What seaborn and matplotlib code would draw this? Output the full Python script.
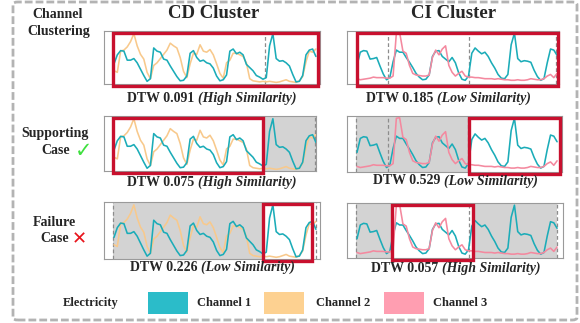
import numpy as np
import pandas as pd
import matplotlib
matplotlib.use("Agg")
import matplotlib.pyplot as plt
import seaborn as sns
from matplotlib.patches import Rectangle, FancyBboxPatch
from matplotlib.transforms import blended_transform_factory

# ---------------- data ----------------
cd_channel1 = [0.38, 0.55, 0.63, 0.62, 0.45, 0.45, 0.48, 0.40, 0.28, 0.16,
               0.05, 0.10, 0.68, 0.62, 0.60, 0.47, 0.45, 0.34, 0.24, 0.14,
               0.06, 0.07, 0.15, 0.58, 0.63, 0.50, 0.43, 0.45, 0.40, 0.38,
               0.30, 0.15, 0.06, 0.08, 0.17, 0.62, 0.66, 0.57, 0.60, 0.55,
               0.37, 0.31, 0.25, 0.16, 0.13, 0.09, 0.12, 0.72, 0.95, 0.48,
               0.43, 0.44, 0.40, 0.34, 0.18, 0.04, 0.05, 0.16, 0.55, 0.64,
               0.66, 0.52]
cd_channel2 = [0.25, 0.22, 0.62, 0.64, 0.70, 0.80, 0.95, 0.72, 0.56, 0.47,
               0.22, 0.10, 0.35, 0.40, 0.48, 0.56, 0.64, 0.77, 0.72, 0.68,
               0.50, 0.24, 0.12, 0.38, 0.58, 0.56, 0.74, 0.62, 0.60, 0.65,
               0.55, 0.38, 0.20, 0.11, 0.40, 0.45, 0.58, 0.58, 0.55, 0.52,
               0.40, 0.10, 0.06, 0.05, 0.04, 0.05, 0.04, 0.05, 0.04, 0.03,
               0.04, 0.06, 0.08, 0.05, 0.04, 0.03, 0.06, 0.14, 0.42, 0.62,
               0.60, 0.66]
ci_channel1 = [0.35, 0.60, 0.63, 0.62, 0.47, 0.48, 0.50, 0.34, 0.19, 0.08,
               0.12, 0.42, 0.64, 0.60, 0.60, 0.50, 0.41, 0.31, 0.20, 0.13,
               0.08, 0.09, 0.17, 0.52, 0.62, 0.63, 0.52, 0.47, 0.42, 0.50,
               0.40, 0.21, 0.09, 0.07, 0.15, 0.58, 0.68, 0.62, 0.57, 0.60,
               0.52, 0.40, 0.30, 0.18, 0.11, 0.10, 0.18, 0.74, 0.96, 0.48,
               0.42, 0.44, 0.43, 0.41, 0.26, 0.14, 0.07, 0.10, 0.40, 0.66,
               0.64, 0.54]
ci_channel3 = [0.10, 0.08, 0.09, 0.10, 0.11, 0.13, 0.12, 0.12, 0.12, 0.11,
               0.11, 0.15, 0.96, 0.97, 0.62, 0.58, 0.35, 0.20, 0.17, 0.16,
               0.15, 0.15, 0.17, 0.50, 0.64, 0.55, 0.66, 0.72, 0.35, 0.22,
               0.15, 0.20, 0.24, 0.15, 0.13, 0.13, 0.12, 0.12, 0.11, 0.10,
               0.10, 0.10, 0.09, 0.10, 0.09, 0.08, 0.08, 0.07, 0.07, 0.08,
               0.07, 0.07, 0.08, 0.10, 0.09, 0.08, 0.08, 0.10, 0.15, 0.18,
               0.12, 0.20]

column_titles = ["CD Cluster", "CI Cluster"]
row_labels = [("Channel", "Clustering"), ("Supporting", "Case"), ("Failure", "Case")]
dtw_values = [[0.091, 0.185], [0.075, 0.529], [0.226, 0.057]]
similarity = [["High", "Low"], ["High", "Low"], ["Low", "High"]]
legend_labels = ["Channel 1", "Channel 2", "Channel 3"]
dataset_name = "Electricity"

# highlighted windows (sample index) [row][col]
windows = [[(-0.3, 61.6), (0.0, 61.3)],
           [(-0.3, 45.0), (34.1, 61.9)],
           [(45.0, 59.8), (10.7, 35.4)]]
# greyed-out spans
shaded = [[[], []],
          [[(45.0, 61.0)], [(-0.3, 34.1)]],
          [[(-0.3, 45.0)], [(-0.3, 10.7), (35.4, 61.0)]]]
# segment separators
separators = [[[45.6], [0.0, 9.5, 34.1, 60.7]],
              [[60.7], [-0.3, 9.5, 33.8]],
              [[-0.3, 61.0], [-0.3, 34.1, 61.0]]]

# ---------------- style ----------------
sns.set_theme(style="white")
SERIF = ["Liberation Serif", "DejaVu Serif"]
plt.rcParams["font.family"] = SERIF

TEAL = "#1bacb8"
ORANGE = "#f8c98c"
PINK = "#f4899f"
RED = "#c8102e"
SHADE = "#d3d3d3"

W, H = 580, 323
fig = plt.figure(figsize=(W / 100, H / 100), dpi=100)
fig.patch.set_facecolor("white")


def fx(px):
    return px / W


def fy(py):
    return 1 - py / H


# panel boxes in pixels (x0, y0, x1, y1)
boxes = [[(104, 31, 320, 84), (347, 31, 559, 84)],
         [(104, 116, 316, 171), (347, 116, 562, 172)],
         [(104, 202, 320, 259), (347, 203, 563, 258)]]
# pixel origin / step of the sample index per column
col_origin = [114.0, 357.0]
col_step = [3.31, 3.28]

series = [
    [("Channel 2", cd_channel2, ORANGE), ("Channel 1", cd_channel1, TEAL)],
    [("Channel 1", ci_channel1, TEAL), ("Channel 3", ci_channel3, PINK)],
]

for r in range(3):
    for c in range(2):
        x0, y0, x1, y1 = boxes[r][c]
        ax = fig.add_axes([fx(x0), fy(y1), (x1 - x0) / W, (y1 - y0) / H])
        for name, vals, col in series[c]:
            idx = np.arange(len(vals))
            sns.lineplot(x=idx, y=vals, color=col, linewidth=1.15, ax=ax, zorder=3)
        ax.set_xlim((x0 - col_origin[c]) / col_step[c], (x1 - col_origin[c]) / col_step[c])
        ax.set_ylim(0, 1)
        ax.set_xticks([])
        ax.set_yticks([])
        ax.set_xlabel("")
        ax.set_ylabel("")
        for sp in ax.spines.values():
            sp.set_color("#9a9a9a")
            sp.set_linewidth(0.8)
        for a, b in shaded[r][c]:
            ax.axvspan(a, b, color=SHADE, zorder=1, lw=0)
        for s in separators[r][c]:
            ax.axvline(s, color="#8c8c8c", lw=0.9, ls=(0, (3, 2)), zorder=2)
        trans = blended_transform_factory(ax.transData, ax.transAxes)
        a, b = windows[r][c]
        ax.add_patch(Rectangle((a, -0.03), b - a, 1.0, transform=trans, fill=False,
                               edgecolor=RED, lw=2.4, zorder=6, clip_on=False))

renderer = fig.canvas.get_renderer()


def caption(cx, cy, bold_part, ital_part, size=10):
    t1 = fig.text(0, fy(cy), bold_part, fontsize=size, fontweight="bold",
                  va="center", ha="left")
    t2 = fig.text(0, fy(cy), ital_part, fontsize=size, fontweight="bold",
                  style="italic", va="center", ha="left")
    w1 = t1.get_window_extent(renderer).width
    w2 = t2.get_window_extent(renderer).width
    gap = 3.5
    start = cx - (w1 + w2 + gap) / 2
    t1.set_x(fx(start))
    t2.set_x(fx(start + w1 + gap))


cap_pos = [[(212, 98.5), (448.5, 98.5)],
           [(211.5, 182.5), (455, 181)],
           [(212.5, 267.5), (456, 268)]]
for r in range(3):
    for c in range(2):
        cx, cy = cap_pos[r][c]
        caption(cx, cy, f"DTW {dtw_values[r][c]:.3f}", f"({similarity[r][c]} Similarity)")

# column titles
fig.text(fx(214), fy(14), column_titles[0], fontsize=13.5, fontweight="bold", ha="center", va="center")
fig.text(fx(454), fy(14), column_titles[1], fontsize=13.5, fontweight="bold", ha="center", va="center")

# row labels
fig.text(fx(58), fy(15), row_labels[0][0], fontsize=10, fontweight="bold", ha="center", va="center")
fig.text(fx(59), fy(31), row_labels[0][1], fontsize=10, fontweight="bold", ha="center", va="center")
fig.text(fx(55.5), fy(134), row_labels[1][0], fontsize=10, fontweight="bold", ha="center", va="center")
fig.text(fx(56), fy(150), row_labels[1][1], fontsize=10, fontweight="bold", ha="center", va="center")
fig.text(fx(83.5), fy(151), "\u2713", fontsize=15, color="#3ee03e", ha="center", va="center",
         family=["DejaVu Sans"], fontweight="bold")
fig.text(fx(79), fy(239.5), "\u2715", fontsize=13, color="#e8141c", ha="center", va="center",
         family=["DejaVu Sans"])
fig.text(fx(54.5), fy(223), row_labels[2][0], fontsize=10, fontweight="bold", ha="center", va="center")
fig.text(fx(54.5), fy(239), row_labels[2][1], fontsize=10, fontweight="bold", ha="center", va="center")

# legend
fig.text(fx(91), fy(303), dataset_name, fontsize=9, fontweight="bold", ha="center", va="center")
leg_colors = ["#2bbcc9", "#fdd191", "#ff9eb1"]
patch_x = [148, 264, 384]
text_x = [197, 316, 433]
for col, px, tx, lab in zip(leg_colors, patch_x, text_x, legend_labels):
    fig.patches.append(Rectangle((fx(px), fy(314)), 40 / W, 22 / H, transform=fig.transFigure,
                                 facecolor=col, edgecolor="none"))
    fig.text(fx(tx), fy(303.5), lab, fontsize=9, fontweight="bold", ha="left", va="center")

# outer dashed border
border = FancyBboxPatch((fx(13), fy(320)), 564 / W, 318 / H,
                        boxstyle="round,pad=0,rounding_size=0.008",
                        transform=fig.transFigure, fill=False, edgecolor="#b3b3b3",
                        lw=2.0, ls=(0, (2.8, 1.1)))
fig.patches.append(border)

fig.savefig("out.png", dpi=100, facecolor="white")
